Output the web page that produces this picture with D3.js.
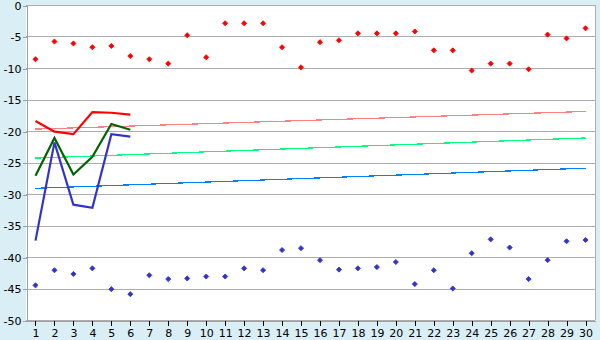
<!DOCTYPE html>
<html>
<head>
<meta charset="utf-8">
<script src="https://cdn.jsdelivr.net/npm/d3@7"></script>
<style>
  body { margin: 0; background: #d9eef5; }
  svg { display: block; font-family: "DejaVu Sans", Verdana, sans-serif; }
</style>
</head>
<body>
<div id="chart"></div>
<script>
const categories = d3.range(1, 31);
const yTicks = [0, -5, -10, -15, -20, -25, -30, -35, -40, -45, -50];

// scatter series
const redPoints = [-8.6, -5.8, -6.1, -6.7, -6.5, -8.1, -8.6, -9.3, -4.8, -8.3,
  -2.9, -2.9, -2.9, -6.7, -9.9, -5.9, -5.6, -4.5, -4.5, -4.5,
  -4.2, -7.2, -7.2, -10.4, -9.3, -9.3, -10.2, -4.7, -5.3, -3.7];
const bluePoints = [-44.5, -42.1, -42.7, -41.8, -45.1, -45.9, -42.9, -43.5, -43.4, -43.1,
  -43.1, -41.8, -42.1, -38.9, -38.6, -40.5, -42.0, -41.8, -41.6, -40.8,
  -44.3, -42.1, -45.0, -39.4, -37.2, -38.5, -43.5, -40.5, -37.5, -37.3];

// short line series (categories 1..6)
const redLine = [-18.4, -20.1, -20.5, -17.0, -17.1, -17.4];
const greenLine = [-27.1, -21.1, -26.9, -24.1, -18.9, -19.8];
const blueLine = [-37.4, -21.8, -31.7, -32.2, -20.5, -20.9];

// trend lines: [value at category 1, value at category 30]
const redTrend = [-19.7, -16.9];
const greenTrend = [-24.3, -21.1];
const blueTrend = [-29.1, -25.9];

const W = 600, H = 340;
const svg = d3.select("#chart").append("svg")
  .attr("width", W).attr("height", H);

const x = d3.scaleBand().domain(categories).range([26, 595]);
const y = d3.scaleLinear().domain([-50, 0]).range([320, 5]);
const cx = d => x(d) + x.bandwidth() / 2;

svg.append("rect")
  .attr("x", 26).attr("y", 5)
  .attr("width", 595 - 26).attr("height", 315)
  .attr("fill", "#fff");

// gridlines
svg.append("g")
  .selectAll("line")
  .data(yTicks)
  .join("line")
  .attr("x1", 26).attr("x2", 595)
  .attr("y1", d => Math.round(y(d)) + 0.5)
  .attr("y2", d => Math.round(y(d)) + 0.5)
  .attr("stroke", "#adadad")
  .attr("shape-rendering", "crispEdges");

svg.append("line")
  .attr("x1", 595.5).attr("x2", 595.5).attr("y1", 5).attr("y2", 320)
  .attr("stroke", "#adadad").attr("shape-rendering", "crispEdges");

// y axis
const yAxis = svg.append("g")
  .attr("transform", "translate(26.5,0.5)")
  .call(d3.axisLeft(y).tickValues(yTicks).tickSize(4).tickFormat(d3.format("d")));
yAxis.select(".domain").attr("stroke", "#a0a0a0");
yAxis.selectAll(".tick line").attr("stroke", "#a0a0a0");
yAxis.selectAll("text").attr("font-size", 11).attr("fill", "#000")
  .attr("font-family", "DejaVu Sans").attr("x", -5).text(d => d === 0 ? "0" : "-" + Math.abs(d));
yAxis.attr("shape-rendering", "crispEdges");

// x axis
const xAxis = svg.append("g")
  .attr("transform", "translate(0.5,320.5)")
  .call(d3.axisBottom(x).tickSize(5).tickSizeOuter(0));
xAxis.select(".domain").attr("stroke", "#a0a0a0");
xAxis.selectAll(".tick line").attr("stroke", "#000");
xAxis.selectAll("text").attr("font-size", 11).attr("fill", "#000")
  .attr("font-family", "DejaVu Sans").attr("y", 9);
xAxis.attr("shape-rendering", "crispEdges");

// trend lines
const trends = [
  { v: redTrend, color: "#ff8080" },
  { v: greenTrend, color: "#00ff80" },
  { v: blueTrend, color: "#0080ff" }
];
svg.append("g")
  .selectAll("line")
  .data(trends)
  .join("line")
  .attr("x1", cx(1)).attr("x2", cx(30))
  .attr("y1", d => y(d.v[0])).attr("y2", d => y(d.v[1]))
  .attr("stroke", d => d.color)
  .attr("stroke-width", 1.2)
  .attr("shape-rendering", "crispEdges");

// short line series
const lineGen = d3.line().x((d, i) => cx(categories[i])).y(d => y(d));
const series = [
  { v: redLine, color: "#ff0000" },
  { v: greenLine, color: "#006400" },
  { v: blueLine, color: "#3333cc" }
];
svg.append("g")
  .selectAll("path")
  .data(series)
  .join("path")
  .attr("d", d => lineGen(d.v))
  .attr("fill", "none")
  .attr("stroke", d => d.color)
  .attr("stroke-width", 2.2);

// scatter markers: small diamonds
const marker = d3.symbol().type(d3.symbolSquare).size(13);
const pts = [
  { v: redPoints, color: "#ff0000" },
  { v: bluePoints, color: "#3333cc" }
];
pts.forEach(s => {
  svg.append("g")
    .selectAll("path")
    .data(s.v)
    .join("path")
    .attr("d", marker)
    .attr("transform", (d, i) => `translate(${cx(categories[i])},${y(d)}) rotate(45)`)
    .attr("fill", s.color)
    .attr("stroke", s.color)
    .attr("stroke-width", 0.8);
});
</script>
</body>
</html>
